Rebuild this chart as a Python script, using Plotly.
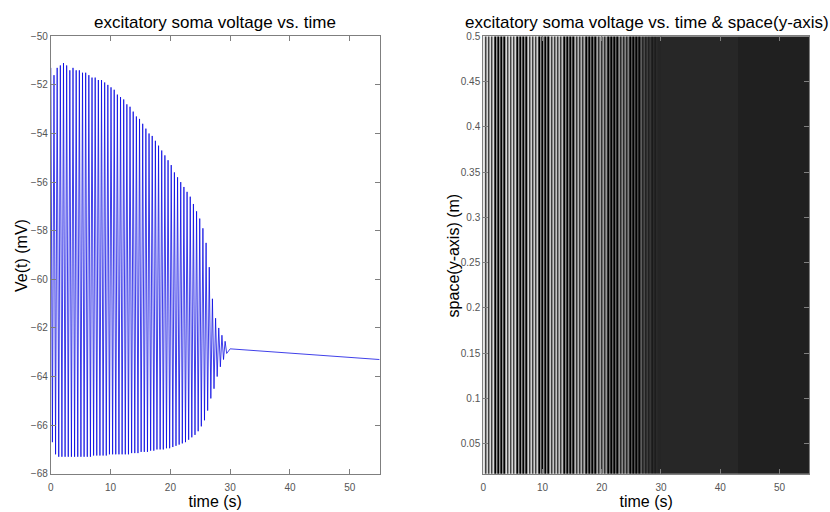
import numpy as np
import plotly.graph_objects as go

# ---- data ----
cycle_period = 0.53  # s, one oscillation cycle
# upper extrema (peaks) of the soma voltage, one per cycle, starting at t = 0
peak_v = [-51.3, -51.6, -51.3, -51.2, -51.1, -51.2, -51.4, -51.3, -51.4, -51.4,
          -51.5, -51.5, -51.6, -51.7, -51.7, -51.8, -51.8, -51.9, -52.0, -52.1,
          -52.2, -52.4, -52.5, -52.6, -52.8, -52.9, -53.1, -53.3, -53.4, -53.6,
          -53.8, -54.0, -54.1, -54.3, -54.5, -54.7, -54.9, -55.1, -55.3, -55.6,
          -55.8, -56.0, -56.2, -56.4, -56.6, -56.9, -57.2, -57.5, -57.9, -58.5,
          -59.5, -60.8, -61.6, -62.0, -62.3, -62.55]
# lower extrema (troughs), half a cycle after each peak
trough_v = [-66.7, -67.2, -67.3, -67.3, -67.3, -67.3, -67.3, -67.3, -67.3, -67.3,
            -67.3, -67.3, -67.3, -67.25, -67.25, -67.25, -67.25, -67.25, -67.2, -67.2,
            -67.2, -67.2, -67.2, -67.2, -67.2, -67.15, -67.15, -67.15, -67.1, -67.1,
            -67.1, -67.05, -67.05, -67.0, -67.0, -67.0, -66.95, -66.95, -66.9, -66.85,
            -66.8, -66.75, -66.7, -66.6, -66.5, -66.4, -66.25, -66.05, -65.8, -65.4,
            -64.9, -64.5, -64.0, -63.6, -63.3, -63.05]
# resting tail after the oscillation has died out
tail_t = [30.0, 43.0, 55.0]
tail_v = [-62.86, -63.08, -63.30]

# y (space) extent of the image in the right panel
space_edges = [0.0167, 0.5]

x_ticks = [0, 10, 20, 30, 40, 50]
ve_ticks = [-68, -66, -64, -62, -60, -58, -56, -54, -52, -50]
space_ticks = [0.05, 0.1, 0.15, 0.2, 0.25, 0.3, 0.35, 0.4, 0.45, 0.5]
space_ticktext = ["0.05", "0.1", "0.15", "0.2", "0.25", "0.3", "0.35", "0.4", "0.45", "0.5"]

# ---- assemble samples ----
n = len(peak_v)
peak_t = np.arange(n) * cycle_period
trough_t = peak_t + cycle_period / 2
osc_t = np.empty(2 * n)
osc_v = np.empty(2 * n)
osc_t[0::2] = peak_t
osc_t[1::2] = trough_t
osc_v[0::2] = peak_v
osc_v[1::2] = trough_v

line_t = np.concatenate([osc_t, tail_t])
line_v = np.concatenate([osc_v, tail_v])

# image columns: oscillating part and resting bands
osc_x_edges = np.concatenate([osc_t, [tail_t[0]]])
band_z = [(tail_v[0] + tail_v[1]) / 2, (tail_v[1] + tail_v[2]) / 2]
y_edges = np.linspace(space_edges[0], space_edges[1], 3)

FONT = "Liberation Sans, Arial, sans-serif"
W, H = 830, 512
ZMIN, ZMAX = -66.0, -49.5
GRAY = [[0, "#000000"], [0.165, "#1d1d1d"], [0.19, "#2b2b2b"], [1, "#f4f4f4"]]

fig = go.Figure()
fig.add_trace(go.Scatter(x=line_t, y=line_v, mode="lines",
                         line=dict(color="rgb(0,0,225)", width=0.75),
                         xaxis="x", yaxis="y", showlegend=False))
fig.add_trace(go.Heatmap(x=osc_x_edges, y=y_edges, z=[osc_v, osc_v],
                         colorscale=GRAY, zmin=ZMIN, zmax=ZMAX,
                         showscale=False, xaxis="x2", yaxis="y2"))
fig.add_trace(go.Heatmap(x=tail_t, y=y_edges, z=[band_z, band_z],
                         colorscale=GRAY, zmin=ZMIN, zmax=ZMAX,
                         showscale=False, xaxis="x2", yaxis="y2"))

def px_x(p):
    return p / W

def px_y(p):
    return 1 - p / H

axis_common = dict(showgrid=False, zeroline=False, showline=True, linecolor="#7f7f7f",
                   linewidth=1, mirror="ticks", ticks="inside", ticklen=5,
                   tickcolor="#7f7f7f", tickfont=dict(family=FONT, size=10, color="#555555"))
xtitle = dict(text="time (s)", font=dict(family=FONT, size=16, color="black"), standoff=1)

fig.update_layout(
    width=W, height=H, margin=dict(l=0, r=0, t=0, b=0),
    paper_bgcolor="white", plot_bgcolor="white",
    xaxis=dict(domain=[px_x(48), px_x(378)], range=[0, 55], tickvals=x_ticks, anchor="y",
               ticklabelstandoff=4, title=xtitle, **axis_common),
    yaxis=dict(domain=[px_y(479), px_y(31)], range=[-68, -50], tickvals=ve_ticks, anchor="x", **axis_common),
    xaxis2=dict(domain=[px_x(482), px_x(809)], range=[0, 55], tickvals=x_ticks, anchor="y2",
                ticklabelstandoff=4, title=xtitle, **axis_common),
    yaxis2=dict(domain=[px_y(479), px_y(31)], range=[space_edges[0], space_edges[1]],
                tickvals=space_ticks, ticktext=space_ticktext, anchor="x2", **axis_common),
    annotations=[
        dict(text="excitatory soma voltage vs. time", x=px_x(213), y=px_y(17), xref="paper", yref="paper",
             showarrow=False, xanchor="center", yanchor="middle", font=dict(family=FONT, size=17, color="black")),
        dict(text="excitatory soma voltage vs. time & space(y-axis)", x=px_x(646), y=px_y(17), xref="paper", yref="paper",
             showarrow=False, xanchor="center", yanchor="middle", font=dict(family=FONT, size=17, color="black")),
        dict(text="Ve(t) (mV)", x=px_x(18), y=px_y(255), xref="paper", yref="paper", textangle=-90,
             showarrow=False, xanchor="center", yanchor="middle", font=dict(family=FONT, size=16, color="black")),
        dict(text="space(y-axis) (m)", x=px_x(452), y=px_y(255), xref="paper", yref="paper", textangle=-90,
             showarrow=False, xanchor="center", yanchor="middle", font=dict(family=FONT, size=16, color="black")),
    ],
)

fig.write_html("out.html")
